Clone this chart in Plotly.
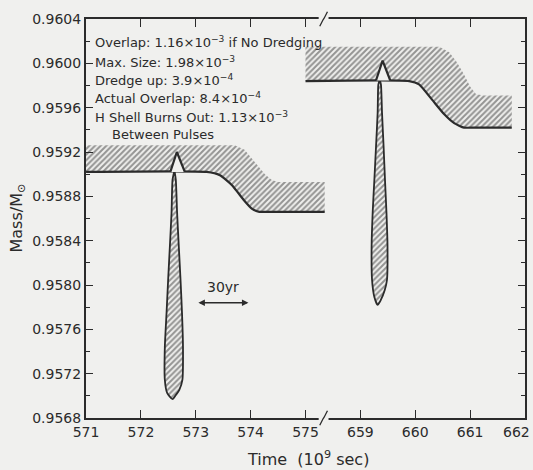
import plotly.graph_objects as go

# ---------------- data (time in 10^9 s, mass in solar masses) ----------------
OFFSET = 83.0  # time span removed by the axis break (659 is drawn where 576 would be)

band1_top_t = [571.0, 573.71, 573.89, 574.07, 574.26, 574.38, 574.49, 575.35]
band1_top_m = [0.95926, 0.95926, 0.95922, 0.95911, 0.95900, 0.95895, 0.95893, 0.95893]
band1_bot_t = [571.0, 573.20, 573.44, 573.66, 573.87, 574.02, 574.16, 574.31, 575.35]
band1_bot_m = [0.95902, 0.95902, 0.95899, 0.95890, 0.95877, 0.95869, 0.95866, 0.95866, 0.95866]

band2_top_t = [658.00, 660.44, 660.62, 660.76, 660.89, 661.00, 661.11, 661.26, 661.76]
band2_top_m = [0.96015, 0.96015, 0.96010, 0.96001, 0.95990, 0.95979, 0.95972, 0.95971, 0.95971]
band2_bot_t = [658.00, 659.89, 660.07, 660.31, 660.53, 660.71, 660.89, 661.07, 661.76]
band2_bot_m = [0.95984, 0.95984, 0.95981, 0.95967, 0.95954, 0.95946, 0.95942, 0.95942, 0.95942]

lobe1_t = [572.605, 572.576, 572.558, 572.527, 572.496, 572.467, 572.436, 572.436, 572.478, 572.576,
           572.636, 572.700, 572.756, 572.767, 572.749, 572.722, 572.691, 572.660, 572.636, 572.615]
lobe1_m = [0.959020, 0.958948, 0.958650, 0.958343, 0.958045, 0.957747, 0.957441, 0.957143, 0.957026, 0.956970,
           0.957007, 0.957053, 0.957143, 0.957441, 0.957747, 0.958045, 0.958343, 0.958650, 0.958948, 0.959020]

lobe2_t = [659.345, 659.327, 659.315, 659.285, 659.255, 659.224, 659.205, 659.213, 659.255, 659.315,
           659.373, 659.445, 659.485, 659.495, 659.476, 659.449, 659.424, 659.395, 659.376, 659.360]
lobe2_m = [0.959841, 0.959805, 0.959552, 0.959245, 0.958948, 0.958650, 0.958343, 0.958045, 0.957892, 0.957820,
           0.957865, 0.957955, 0.958045, 0.958343, 0.958650, 0.958948, 0.959245, 0.959552, 0.959805, 0.959841]

tri1_t = [572.536, 572.655, 572.800]
tri1_m = [0.95902, 0.95920, 0.95902]
tri2_t = [659.285, 659.405, 659.545]
tri2_m = [0.959845, 0.960024, 0.959845]

scale_t = [573.02, 573.96]      # 30 yr ~ 0.95e9 s
scale_m = 0.95784
scale_label_m = 0.95798

x_tick_times = [571, 572, 573, 574, 575, 659, 660, 661, 662]
y_tick_vals = [0.9568, 0.9572, 0.9576, 0.9580, 0.9584, 0.9588, 0.9592, 0.9596, 0.9600, 0.9604]

notes = [
    "Overlap: 1.16×10<sup>−3</sup> if No Dredging",
    "Max. Size: 1.98×10<sup>−3</sup>",
    "Dredge up: 3.9×10<sup>−4</sup>",
    "Actual Overlap: 8.4×10<sup>−4</sup>",
    "H Shell Burns Out: 1.13×10<sup>−3</sup>",
    "Between Pulses",
]

# ---------------- helpers ----------------
def bx(ts):
    return [t if t < 600 else t - OFFSET for t in ts]

BG = "#f0f0ee"
INK = "#2b2b2b"
FONT = "DejaVu Sans"
hatch = dict(shape="/", fgcolor="#383838", bgcolor=BG, size=4, solidity=0.52)

fig = go.Figure()

def band(top_t, top_m, bot_t, bot_m):
    xs = bx(top_t) + bx(bot_t)[::-1]
    ys = top_m + bot_m[::-1]
    fig.add_trace(go.Scatter(x=xs, y=ys, mode="lines", fill="toself", fillcolor=BG,
                             fillpattern=hatch, line=dict(width=0), hoverinfo="skip",
                             showlegend=False))
    fig.add_trace(go.Scatter(x=bx(bot_t), y=bot_m, mode="lines",
                             line=dict(color=INK, width=2.2, shape="spline", smoothing=0.5),
                             hoverinfo="skip", showlegend=False))

band(band1_top_t, band1_top_m, band1_bot_t, band1_bot_m)
band(band2_top_t, band2_top_m, band2_bot_t, band2_bot_m)

for lt, lm in [(lobe1_t, lobe1_m), (lobe2_t, lobe2_m)]:
    fig.add_trace(go.Scatter(x=bx(lt), y=lm, mode="lines", fill="toself", fillcolor=BG,
                             fillpattern=hatch,
                             line=dict(color=INK, width=1.8, shape="spline", smoothing=0.6),
                             hoverinfo="skip", showlegend=False))

for tt, tm in [(tri1_t, tri1_m), (tri2_t, tri2_m)]:
    fig.add_trace(go.Scatter(x=bx(tt), y=tm, mode="lines", fill="toself", fillcolor=BG,
                             line=dict(color=INK, width=2.2), hoverinfo="skip",
                             showlegend=False))

# ---------------- annotations ----------------
ann = []
note_y_px = [42, 62, 80, 98, 117, 134]
note_x_px = [93, 93, 93, 93, 93, 110]
for txt, ypx, xpx in zip(notes, note_y_px, note_x_px):
    ann.append(dict(text=txt, xref="paper", yref="paper", x=(xpx - 86) / 439,
                    y=(418 - ypx) / 399, xanchor="left", yanchor="middle",
                    showarrow=False, font=dict(family=FONT, size=13, color=INK)))

# scale bar
ann.append(dict(x=bx(scale_t)[1], y=scale_m, ax=bx(scale_t)[0], ay=scale_m,
                xref="x", yref="y", axref="x", ayref="y", text="",
                showarrow=True, arrowhead=2, arrowside="end+start",
                arrowsize=1, arrowwidth=1.3, arrowcolor=INK))
ann.append(dict(x=sum(bx(scale_t)) / 2, y=scale_label_m, xref="x", yref="y",
                text="30yr", showarrow=False, font=dict(family=FONT, size=14, color=INK)))

# last x tick label, nudged so it stays inside the page
ann.append(dict(text=str(x_tick_times[-1]), xref="paper", yref="paper",
                x=(532 - 86) / 439, y=(418 - 432) / 399, xanchor="right", yanchor="middle",
                showarrow=False, font=dict(family=FONT, size=14, color=INK)))

# axis titles
ann.append(dict(text="Time  (10<sup>9</sup> sec)", xref="paper", yref="paper",
                x=(308 - 86) / 439, y=(418 - 458) / 399, xanchor="center", yanchor="middle",
                showarrow=False, font=dict(family=FONT, size=16, color=INK)))
ann.append(dict(text="Mass/M<sub>⊙</sub>", xref="paper", yref="paper",
                x=(17 - 86) / 439, y=0.5, xanchor="center", yanchor="middle", textangle=-90,
                showarrow=False, font=dict(family=FONT, size=16, color=INK)))

# ---------------- axis break marks ----------------
shapes = []
brk = 575.33
for yp in (0.0, 1.0):
    shapes.append(dict(type="rect", xref="x", yref="paper", x0=brk - 0.09, x1=brk + 0.09,
                       y0=yp - 0.006, y1=yp + 0.006, fillcolor=BG, line=dict(width=0),
                       layer="above"))
    shapes.append(dict(type="path", xref="x", yref="paper",
                       path=f"M {brk-0.07},{yp-0.018} L {brk-0.01},{yp-0.002} L {brk+0.01},{yp+0.002} L {brk+0.07},{yp+0.018}",
                       line=dict(color=INK, width=1.3), layer="above"))

tick_text = [str(t) for t in x_tick_times[:-1]] + [""]

fig.update_layout(
    width=533, height=470,
    margin=dict(l=86, r=8, t=19, b=52, autoexpand=False),
    paper_bgcolor=BG, plot_bgcolor=BG,
    annotations=ann, shapes=shapes,
    showlegend=False,
    xaxis=dict(range=[570.999, 579.001], tickmode="array",
               tickvals=bx(x_tick_times), ticktext=tick_text,
               ticks="inside", ticklen=8, tickwidth=1.4, tickcolor=INK,
               showline=True, linewidth=2, linecolor=INK, mirror="ticks",
               showgrid=False, zeroline=False, automargin=False,
               tickfont=dict(family=FONT, size=14, color=INK)),
    yaxis=dict(range=[0.95679995, 0.96040005], tickmode="array",
               tickvals=y_tick_vals, ticktext=[f"{v:.4f}" for v in y_tick_vals],
               ticks="inside", ticklen=7, tickwidth=1.4, tickcolor=INK,
               minor=dict(dtick=0.0002, tick0=0.9568, ticks="inside", ticklen=4,
                          tickwidth=1.2, tickcolor=INK, showgrid=False),
               showline=True, linewidth=2, linecolor=INK, mirror="ticks",
               showgrid=False, zeroline=False, automargin=False,
               tickfont=dict(family=FONT, size=14, color=INK)),
)

fig.write_html("out.html")
